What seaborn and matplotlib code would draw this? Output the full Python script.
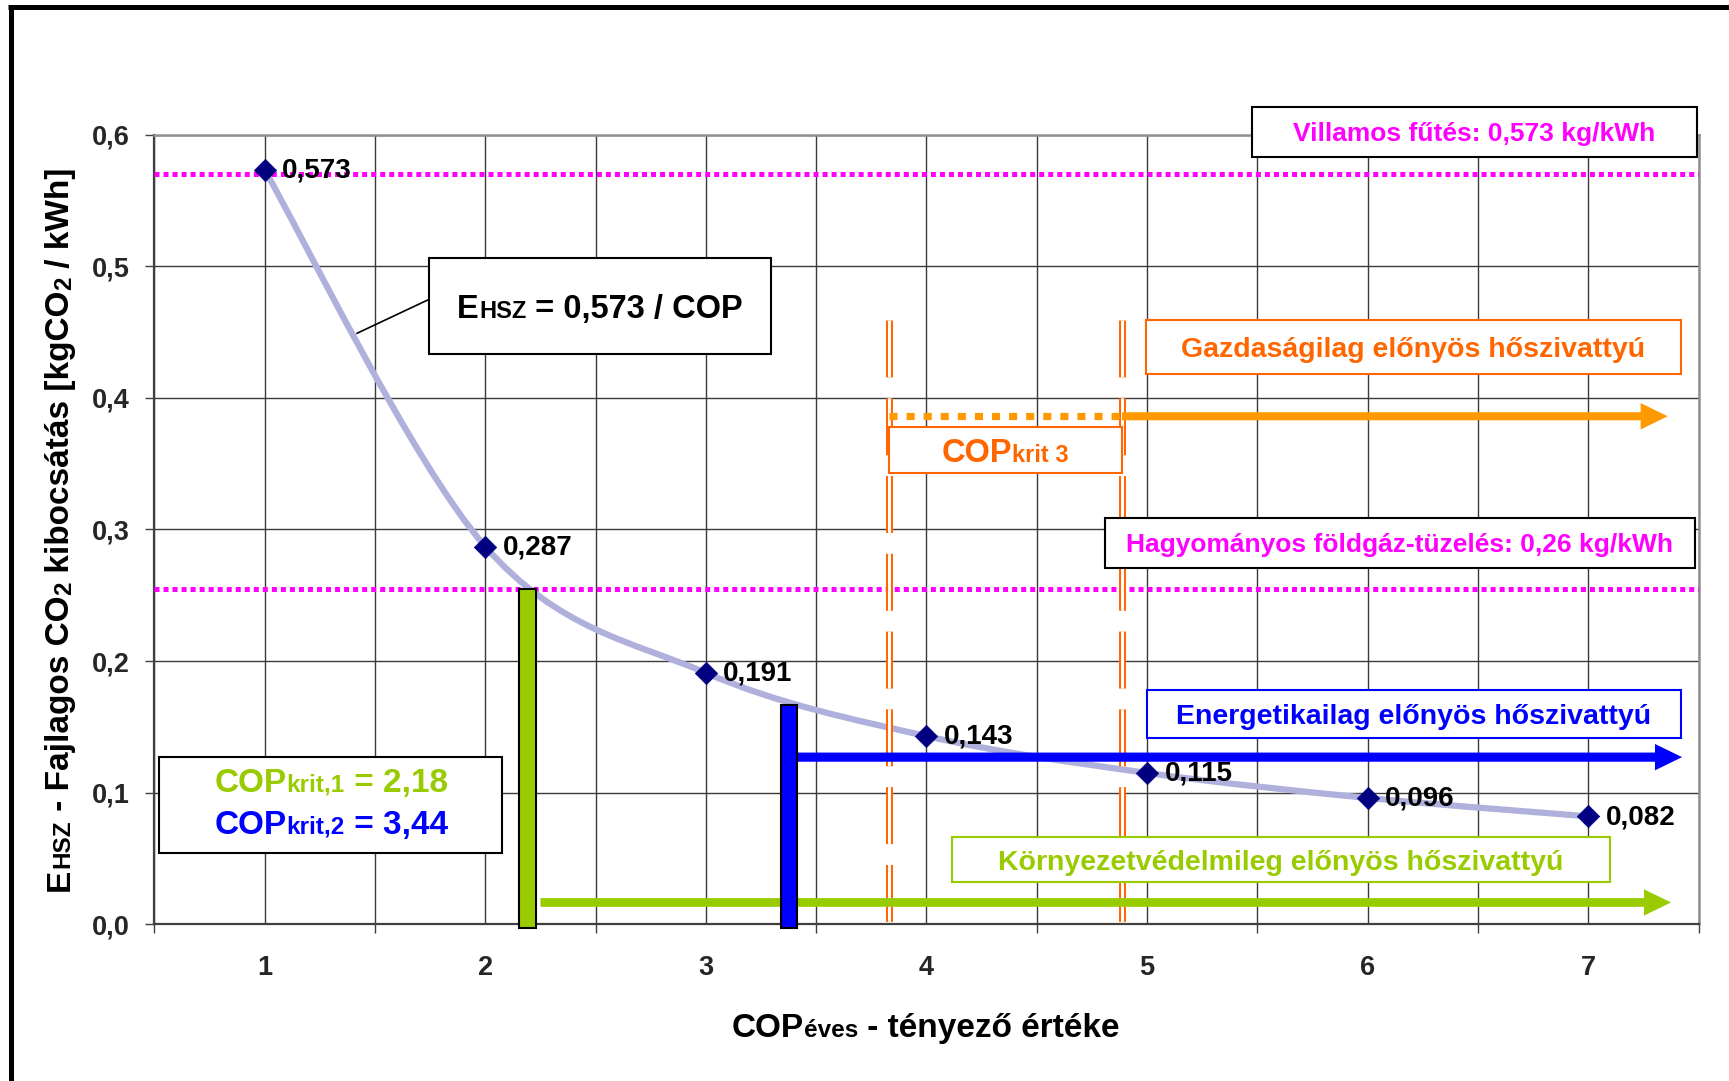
import matplotlib
matplotlib.use('Agg')
import matplotlib.pyplot as plt
import matplotlib.transforms as mtransforms
from matplotlib.path import Path
from matplotlib.patches import PathPatch, Rectangle
from matplotlib.lines import Line2D
import numpy as np
import seaborn as sns

sns.set_theme(style='white')
plt.rcParams['font.family'] = ['Liberation Sans', 'DejaVu Sans']
plt.rcParams['font.weight'] = 'bold'
plt.rcParams['lines.scale_dashes'] = False

# adatok (leolvasva az abráról)
cop = [1, 2, 3, 4, 5, 6, 7]
ehsz = [0.573, 0.287, 0.191, 0.143, 0.115, 0.096, 0.082]
point_labels = ['0,573', '0,287', '0,191', '0,143', '0,115', '0,096', '0,082']
x_ticklabels = ['1', '2', '3', '4', '5', '6', '7']
y_ticks = [0.0, 0.1, 0.2, 0.3, 0.4, 0.5, 0.6]
y_ticklabels = ['0,0', '0,1', '0,2', '0,3', '0,4', '0,5', '0,6']

villamos_szint = 0.57      # villamos fűtés vonal
foldgaz_szint = 0.255      # hagyományos földgáz-tüzelés vonal
krit_x = [2.19, 3.376]     # COPkrit,1 és COPkrit,2 oszlopok helye
krit_felso = [0.255, 0.167]
krit3_x = [3.832, 4.886]   # COPkrit 3 sáv határai
krit3_felso = 0.459
zold_nyil = (2.25, 7.375, 0.0166)
kek_nyil = (3.41, 7.425, 0.127)
narancs_nyil = (4.886, 7.36, 0.386)

ZOLD = '#99CC00'
KEK = '#0000FF'
NARANCS = '#FF6600'
NARANCS2 = '#FF9900'
MAGENTA = '#FF00FF'

W, H = 1729, 1081
fig = plt.figure(figsize=(W / 100, H / 100), dpi=100)
fig.patch.set_facecolor('white')
ax = fig.add_axes([154.4 / W, 1 - 924.3 / H, (1698.6 - 154.4) / W, (924.3 - 134.6) / H])
ax.set_facecolor('white')

ax.set_xlim(0.5, 7.5)
ax.set_ylim(0, 0.6)
ax.set_xticks(cop)
ax.set_xticklabels(x_ticklabels, fontsize=19.5, fontweight='bold')
ax.set_xticks(np.arange(0.5, 8.0, 1.0), minor=True)
ax.set_yticks(y_ticks)
ax.set_yticklabels(y_ticklabels, fontsize=19.5, fontweight='bold')
ax.tick_params(axis='x', which='major', length=0, pad=22)
ax.tick_params(axis='x', which='minor', length=6.5, width=1, color='#404040', direction='out', bottom=True)
ax.tick_params(axis='y', which='major', length=6.5, width=1, color='#404040', direction='out', left=True, pad=11)
ax.grid(True, axis='x', which='both', color='#3a3a3a', lw=1)
ax.grid(True, axis='y', which='major', color='#3a3a3a', lw=1)
ax.set_axisbelow(True)
for side in ['left', 'bottom']:
    ax.spines[side].set_color('#404040')
    ax.spines[side].set_linewidth(1.6)
for side in ['top', 'right']:
    ax.spines[side].set_color('#909090')
    ax.spines[side].set_linewidth(1.8)

# vízszintes pontozott vonalak
for szint in [villamos_szint, foldgaz_szint]:
    ax.axhline(szint, color=MAGENTA, lw=3.6, ls=(0, (3.6, 2.9)), dash_capstyle='butt', zorder=3)

# simított görbe (Excel-szerű simítás a mért pontokon át)
pts = np.column_stack([cop, ehsz])
verts = [pts[0]]
codes = [Path.MOVETO]
n = len(pts)
for i in range(n - 1):
    p0 = pts[max(i - 1, 0)]
    p1 = pts[i]
    p2 = pts[i + 1]
    p3 = pts[min(i + 2, n - 1)]
    verts += [p1 + (p2 - p0) / 6, p2 - (p3 - p1) / 6, p2]
    codes += [Path.CURVE4] * 3
ax.add_patch(PathPatch(Path(verts, codes), fill=False, edgecolor='#B0B0DC', lw=4.5,
                       capstyle='round', zorder=3))

# narancs dupla szaggatott függőleges vonalak
for x in krit3_x:
    ax.plot([x, x], [krit3_felso, -0.003], color=NARANCS, lw=5, ls=(0, (41, 15)),
            dash_capstyle='butt', zorder=4, clip_on=False)
    ax.plot([x, x], [krit3_felso, -0.003], color='white', lw=2.1, ls=(0, (41, 15)),
            dash_capstyle='butt', zorder=4.1, clip_on=False)

# pontozott narancs szakasz a COPkrit 3 sávban
ax.plot(krit3_x, [narancs_nyil[2]] * 2, color=NARANCS2, lw=5.2, ls=(0, (5.8, 6.5)),
        dash_capstyle='butt', zorder=4.5)


def nyil(x0, x1, y, color, tail):
    ax.annotate('', xy=(x1, y), xytext=(x0, y), zorder=5,
                arrowprops=dict(arrowstyle=f'simple,head_length=19.5,head_width=19,tail_width={tail}',
                                color=color, mutation_scale=1, shrinkA=0, shrinkB=0, lw=0))


nyil(*zold_nyil, ZOLD, 6.3)
nyil(*kek_nyil, KEK, 6.6)
nyil(*narancs_nyil, NARANCS2, 5.8)

# kritikus COP oszlopok
ax.bar(krit_x, [t + 0.003 for t in krit_felso], bottom=-0.003, width=[0.078, 0.073],
       color=[ZOLD, KEK], edgecolor='black', lw=1.5, zorder=5, clip_on=False)

# pontok és feliratok
sns.scatterplot(x=cop, y=ehsz, marker='D', s=130, color='#000080', edgecolor='#000080',
                linewidth=0.5, zorder=6, ax=ax, legend=False)
for x, y, lbl in zip(cop, ehsz, point_labels):
    ax.annotate(lbl, (x, y), xytext=(12.5, -0.5), textcoords='offset points', ha='left',
                va='center', fontsize=20, fontweight='bold', color='black', zorder=7)

# mutatóvonal az egyenlet dobozához
ax.plot([1.418, 1.745], [0.449, 0.4748], color='black', lw=1.2, zorder=4)

ax.set_xlabel('')
ax.set_ylabel('')

renderer = fig.canvas.get_renderer()
ident = mtransforms.IdentityTransform()


def rich_text(cx, cy, parts, rotation=0):
    """Több méretű szöveg; cx, cy a középpont képpontban (bal felső sarokból)."""
    widths = []
    for s, size, color, sub in parts:
        t = fig.text(0, 0, s, fontsize=size, fontweight='bold')
        widths.append(t.get_window_extent(renderer).width)
        t.remove()
    total = sum(widths)
    big = max(p[1] for p in parts)
    cap = 0.716 * big * 100 / 72
    if rotation == 0:
        x = cx - total / 2
        yb = (H - cy) - cap / 2
        for (s, size, color, sub), w in zip(parts, widths):
            fig.text(x, yb - sub * size, s, fontsize=size, fontweight='bold', color=color,
                     ha='left', va='baseline', transform=ident, zorder=10)
            x += w
    else:
        xb = cx + cap / 2
        y = (H - cy) - total / 2
        for (s, size, color, sub), w in zip(parts, widths):
            fig.text(xb + sub * size, y, s, fontsize=size, fontweight='bold', color=color,
                     ha='left', va='baseline', rotation=90, rotation_mode='anchor',
                     transform=ident, zorder=10)
            y += w


def doboz(x0, y0, x1, y1, edge):
    fig.add_artist(Rectangle((x0 / W, 1 - y1 / H), (x1 - x0) / W, (y1 - y0) / H,
                             transform=fig.transFigure, facecolor='white', edgecolor=edge,
                             lw=1.5, zorder=9))


BIG, SMALL = 23.5, 17

doboz(1252, 107, 1697, 157, 'black')
rich_text(1474.5, 132, [('Villamos fűtés: 0,573 kg/kWh', 19, MAGENTA, 0)])

doboz(429, 258, 771, 354, 'black')
rich_text(600, 306, [('E', BIG, 'black', 0), ('HSZ', SMALL, 'black', 0),
                     (' = 0,573 / COP', BIG, 'black', 0)])

doboz(1146, 320, 1681, 374, NARANCS)
rich_text(1413.5, 347, [('Gazdaságilag előnyös hőszivattyú', 20.5, NARANCS, 0)])

doboz(889, 427, 1122, 473, NARANCS)
rich_text(1005.5, 450, [('COP', BIG, NARANCS, 0), ('krit 3', SMALL, NARANCS, 0)])

doboz(1105, 518, 1695, 568, 'black')
rich_text(1400, 543, [('Hagyományos földgáz-tüzelés: 0,26 kg/kWh', 19, MAGENTA, 0)])

doboz(1147, 690, 1681, 738, KEK)
rich_text(1414, 714, [('Energetikailag előnyös hőszivattyú', 20.5, KEK, 0)])

doboz(952, 837, 1610, 882, ZOLD)
rich_text(1281, 859.5, [('Környezetvédelmileg előnyös hőszivattyú', 20.5, ZOLD, 0)])

doboz(159, 757, 502, 853, 'black')
rich_text(331, 780, [('COP', 24, ZOLD, 0), ('krit,1', 17.5, ZOLD, 0), (' = 2,18', 24, ZOLD, 0)])
rich_text(331, 822, [('COP', 24, KEK, 0), ('krit,2', 17.5, KEK, 0), (' = 3,44', 24, KEK, 0)])

# tengelyfeliratok
rich_text(926, 1025, [('COP', 24, 'black', 0), ('éves', 17.5, 'black', 0),
                      (' - tényező értéke', 24, 'black', 0)])
rich_text(57, 529, [('E', 24, 'black', 0), ('HSZ', 17.5, 'black', 0),
                    (' - Fajlagos CO', 24, 'black', 0), ('2', 17.5, 'black', 0.15),
                    (' kibocsátás [kgCO', 24, 'black', 0), ('2', 17.5, 'black', 0.15),
                    (' / kWh]', 24, 'black', 0)], rotation=90)

# keret (bal és felső fekete vonal)
fig.add_artist(Line2D([8 / W, 1], [1 - 7 / H, 1 - 7 / H], transform=fig.transFigure,
                      color='black', lw=3.6, solid_capstyle='butt'))
fig.add_artist(Line2D([10.5 / W, 10.5 / W], [0, 1 - 5 / H], transform=fig.transFigure,
                      color='black', lw=3.6, solid_capstyle='butt'))

fig.savefig('out.png', dpi=100)
